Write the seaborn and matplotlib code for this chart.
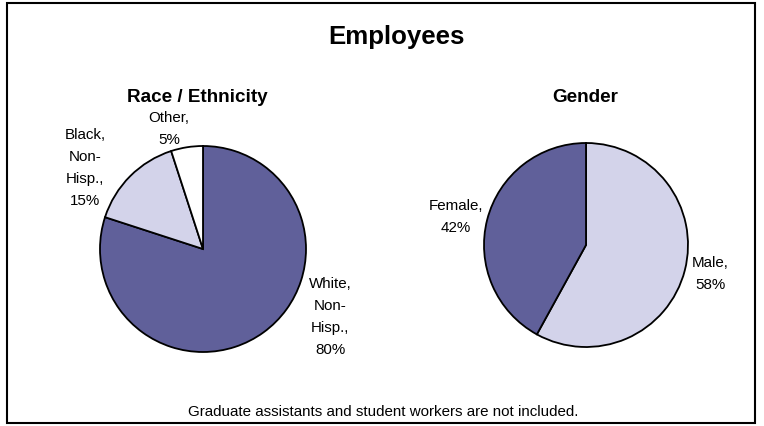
import matplotlib
matplotlib.use("Agg")
import matplotlib.pyplot as plt
import seaborn as sns
from matplotlib.patches import Rectangle

# ---- data ----
race_categories = ["White, Non-Hisp.", "Black, Non-Hisp.", "Other"]
race_label_text = ["White,\nNon-\nHisp.,", "Black,\nNon-\nHisp.,", "Other,"]
race_values = [80, 15, 5]

gender_categories = ["Male", "Female"]
gender_label_text = ["Male,", "Female,"]
gender_values = [58, 42]

title = "Employees"
race_title = "Race / Ethnicity"
gender_title = "Gender"
footer = "Graduate assistants and student workers are not included."

# ---- style ----
sns.set_theme(style="white")
plt.rcParams["font.family"] = ["Liberation Sans", "DejaVu Sans"]

DARK = "#60609A"
LIGHT = "#D3D3EA"
WHITE = "#FFFFFF"

W, H = 764, 426
fig = plt.figure(figsize=(W / 100, H / 100), dpi=100)
fig.patch.set_facecolor("white")


def fx(x):
    return x / W


def fy(y):
    return 1 - y / H


def pie_axes(cx, cy, r):
    ax = fig.add_axes([fx(cx - r), fy(cy + r), 2 * r / W, 2 * r / H])
    return ax


def finish(ax):
    ax.set_xlim(-1, 1)
    ax.set_ylim(-1, 1)
    ax.set_aspect("equal")
    ax.axis("off")


wedge_kw = dict(edgecolor="black", linewidth=1.3)

ax1 = pie_axes(203, 249, 103)
ax1.pie(race_values, colors=[DARK, LIGHT, WHITE], startangle=90,
        counterclock=False, radius=1, wedgeprops=wedge_kw)
finish(ax1)

ax2 = pie_axes(586, 245, 102)
ax2.pie(gender_values, colors=[LIGHT, DARK], startangle=90,
        counterclock=False, radius=1, wedgeprops=wedge_kw)
finish(ax2)

# slice labels
label_fs = 10.9
race_label_pos = [(330, 317), (85, 168), (169, 129)]
for txt, v, (x, y) in zip(race_label_text, race_values, race_label_pos):
    fig.text(fx(x), fy(y), f"{txt}\n{v}%", ha="center", va="center",
             fontsize=label_fs, linespacing=1.7, color="black")

gender_label_pos = [(710, 274), (456, 217)]
for txt, v, (x, y) in zip(gender_label_text, gender_values, gender_label_pos):
    fig.text(fx(x), fy(y), f"{txt}\n{v}%", ha="center", va="center",
             fontsize=label_fs, linespacing=1.7, color="black")

# titles
fig.text(fx(396), fy(44), title, ha="center", va="baseline",
         fontsize=18.6, fontweight="bold", color="black")
fig.text(fx(197.5), fy(102), race_title, ha="center", va="baseline",
         fontsize=13.6, fontweight="bold", color="black")
fig.text(fx(585), fy(102), gender_title, ha="center", va="baseline",
         fontsize=13.6, fontweight="bold", color="black")
fig.text(fx(383), fy(416), footer, ha="center", va="baseline",
         fontsize=10.9, color="black")

# outer border
fig.patches.append(Rectangle((fx(7), fy(423)), (755 - 7) / W, (423 - 3) / H,
                             transform=fig.transFigure, fill=False,
                             edgecolor="black", linewidth=1.5))

fig.savefig("out.png", dpi=100)
